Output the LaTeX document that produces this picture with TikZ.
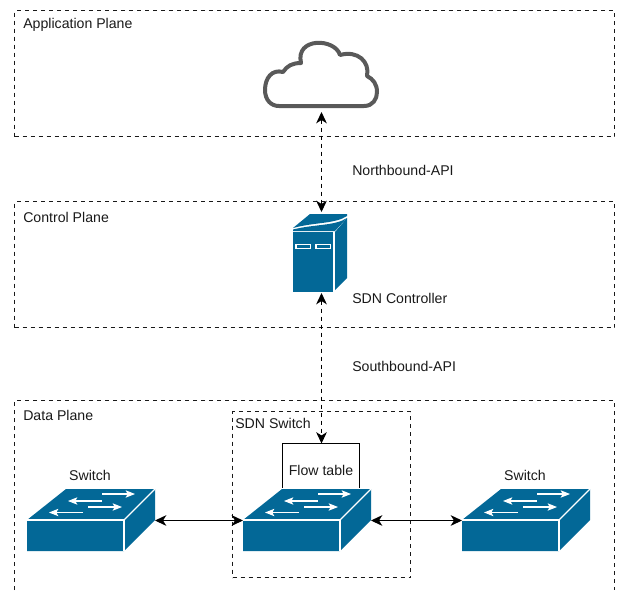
\documentclass[tikz,border=0pt]{standalone}
\usepackage{fontspec}
\setmainfont{Liberation Sans}
\usetikzlibrary{arrows.meta}
\definecolor{icon}{HTML}{036897}
\definecolor{cloudgrey}{HTML}{595959}
\tikzset{
  x=0.75pt,y=-0.75pt,
  plane/.style={draw=black!90,line width=0.75pt,dash pattern=on 3pt off 3pt},
  lbl/.style={font=\fontsize{10.6pt}{12pt}\selectfont,inner sep=0pt,anchor=west,text=black!90},
  dlink/.style={line width=0.75pt,dash pattern=on 3pt off 3pt,{Stealth[length=8.5pt,width=8pt,inset=2.5pt]}-{Stealth[length=8.5pt,width=8pt,inset=2.5pt]}},
  slink/.style={line width=0.75pt,{Stealth[length=8.5pt,width=8pt,inset=2.5pt]}-{Stealth[length=8.5pt,width=8pt,inset=2.5pt]}},
  anchorbox/.style={inner sep=0pt,outer sep=0pt,minimum width=0pt,minimum height=0pt},
  flowarrow/.style={white,line width=0.8pt,-{Stealth[length=7pt,width=5.5pt,inset=1.5pt]}},
  pics/switchicon/.style={code={
    \fill[icon] (0,31) -- (39,0) -- (128,0) -- (128,31) -- (97,62) -- (0,62) -- cycle;
    \draw[white,line width=0.85pt] (0,31) -- (97,31) -- (97,62);
    \draw[white,line width=0.85pt] (97,31) -- (128,0);
    \draw[flowarrow] (75,5) -- (108,5);
    \draw[flowarrow] (75,12) -- (41,12);
    \draw[flowarrow] (61,18) -- (95,18);
    \draw[flowarrow] (56,23.5) -- (22,23.5);
  }}
}
\begin{document}
\begin{tikzpicture}
\useasboundingbox (0,0) rectangle (617,590);
% planes
\node[plane,anchorbox,minimum width=450pt,minimum height=94.5pt,anchor=north west] (app) at (14.5,10.5) {};
\node[plane,anchorbox,minimum width=450pt,minimum height=94.5pt,anchor=north west] (ctl) at (14.5,201.5) {};
\draw[plane] (14.5,590) -- (14.5,400.5) -- (614.5,400.5) -- (614.5,590);
\node[plane,anchorbox,minimum width=133.5pt,minimum height=124.5pt,anchor=north west] (sdnbox) at (232.5,411.5) {};
\node[lbl] (lapp) at (23,25) {Application Plane};
\node[lbl] (lctl) at (23,217) {Control Plane};
\node[lbl] (ldata) at (23,415) {Data Plane};
\node[lbl] (lsdn) at (235,423) {SDN Switch};
% cloud
\draw[cloudgrey,line width=3pt,line join=round,fill=white]
  (279,106) -- (364,106)
  .. controls (373,106) and (377,99) .. (377,92)
  .. controls (377,84) and (373,79) .. (367,76)
  .. controls (370,62) and (358,50) .. (340,55)
  .. controls (335,38) and (295,37) .. (301,63)
  .. controls (292,63) and (287,66) .. (283,72)
  .. controls (272,69) and (265,78) .. (265,90)
  .. controls (265,100) and (271,106) .. (279,106) -- cycle;
\coordinate (cloudbot) at (321.5,112);
% server
\fill[icon] (293,232) rectangle (333,292);
\fill[icon] (335,232) -- (347,218) -- (347,278) -- (335,290) -- cycle;
\fill[icon] (293,228) -- (310,214) -- (347,214) -- (347,216) .. controls (335,224) and (315,222) .. (293,228) -- cycle;
\fill[icon] (293,229.5) .. controls (315,224) and (335,226) .. (347,218) -- (335,231) -- (293,231) -- cycle;
\draw[white,line width=0.85pt] (296,244.5) rectangle (310.5,248.5);
\draw[white,line width=0.85pt] (316,244.5) rectangle (330.5,248.5);
\coordinate (srvtop) at (321.5,212);
\coordinate (srvbot) at (321.5,293);
\node[lbl] (lnb) at (352,170) {Northbound-API};
\node[lbl] (lctr) at (352,298) {SDN Controller};
\node[lbl] (lsb) at (352,366) {Southbound-API};
% switches
\pic at (27,489) {switchicon};
\pic at (243,489) {switchicon};
\pic at (462,489) {switchicon};
\coordinate (swlr) at (155,520.5);
\coordinate (swml) at (243,520.5);
\coordinate (swmr) at (371,520.5);
\coordinate (swrl) at (462,520.5);
\node[lbl,anchor=center] (lsw1) at (90,475) {Switch};
\node[lbl,anchor=center] (lsw2) at (525,475) {Switch};
% flow table
\draw[black,line width=0.75pt] (282.5,488) -- (282.5,443.5) -- (359.5,443.5) -- (359.5,488);
\coordinate (ftop) at (321.5,443.5);
\node[lbl,anchor=center] (lft) at (321,470) {Flow table};
% links
\draw[dlink] (cloudbot) -- (srvtop);
\draw[dlink] (srvbot) -- (ftop);
\draw[slink] (swlr) -- (swml);
\draw[slink] (swmr) -- (swrl);
\end{tikzpicture}
\end{document}
